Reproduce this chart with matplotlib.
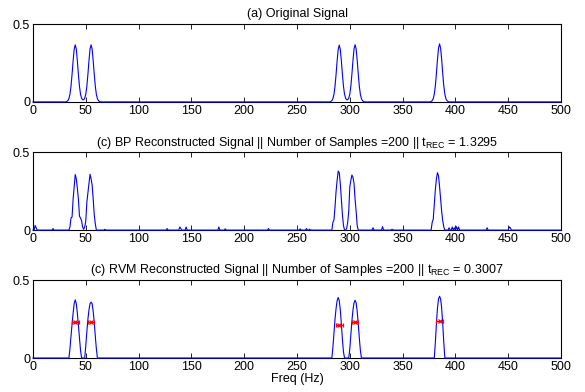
import numpy as np
import matplotlib
matplotlib.use("Agg")
import matplotlib.pyplot as plt

plt.rcParams["font.family"] = ["Liberation Sans", "DejaVu Sans"]
plt.rcParams["mathtext.default"] = "regular"
plt.rcParams["font.size"] = 9

# frequency grid (Hz)
freq = np.arange(0, 501)

# (a) original signal: peak groups, values at 1 Hz steps starting at given freq
orig_start = [32, 282, 377]
orig_vals = [
    [0.003, 0.008, 0.021, 0.049, 0.101, 0.178, 0.265, 0.340, 0.368, 0.340, 0.265, 0.178,
     0.101, 0.050, 0.024, 0.014, 0.014, 0.024, 0.050, 0.101, 0.178, 0.265, 0.340, 0.368,
     0.340, 0.265, 0.178, 0.101, 0.049, 0.021, 0.008, 0.003],
    [0.003, 0.008, 0.021, 0.049, 0.101, 0.178, 0.265, 0.338, 0.366, 0.338, 0.265, 0.178,
     0.101, 0.050, 0.024, 0.014, 0.014, 0.024, 0.050, 0.102, 0.180, 0.268, 0.341, 0.369,
     0.341, 0.268, 0.180, 0.102, 0.049, 0.021, 0.008, 0.003],
    [0.003, 0.008, 0.021, 0.050, 0.103, 0.182, 0.272, 0.346, 0.374, 0.346, 0.272, 0.182,
     0.103, 0.050, 0.021, 0.008, 0.003],
]

# (c) BP reconstruction
bp_start = [34, 283, 377]
bp_vals = [
    [0.0, 0.02, 0.078, 0.085, 0.20, 0.28, 0.358, 0.33, 0.27, 0.20, 0.09, 0.078, 0.06,
     0.02, 0.005, 0.02, 0.06, 0.18, 0.24, 0.30, 0.36, 0.33, 0.29, 0.20, 0.10, 0.04, 0.0],
    [0.0, 0.05, 0.065, 0.15, 0.25, 0.32, 0.38, 0.37, 0.30, 0.20, 0.10, 0.03, 0.0, 0.0,
     0.01, 0.05, 0.12, 0.28, 0.32, 0.355, 0.34, 0.30, 0.20, 0.12, 0.03, 0.0],
    [0.0, 0.05, 0.07, 0.17, 0.26, 0.33, 0.37, 0.35, 0.28, 0.20, 0.12, 0.06, 0.02, 0.0],
]
bp_noise_f = [2, 3, 19, 68, 127, 139, 140, 145, 176, 182, 223, 253, 259, 262, 322,
              331, 340, 394, 397, 399, 401, 403, 430, 451, 452]
bp_noise_v = [0.03, 0.015, 0.01, 0.005, 0.01, 0.02, 0.01, 0.02, 0.02, 0.008, 0.01,
              0.008, 0.01, 0.006, 0.015, 0.022, 0.006, 0.015, 0.02, 0.015, 0.022, 0.02,
              0.015, 0.02, 0.015]

# (c) RVM reconstruction
rvm_start = [34, 49, 283, 299, 380]
rvm_vals = [
    [0.0, 0.06, 0.14, 0.22, 0.29, 0.35, 0.375, 0.35, 0.29, 0.21, 0.13, 0.05, 0.0],
    [0.0, 0.08, 0.17, 0.25, 0.31, 0.35, 0.36, 0.35, 0.30, 0.23, 0.14, 0.06, 0.0],
    [0.0, 0.07, 0.16, 0.25, 0.32, 0.37, 0.39, 0.37, 0.31, 0.22, 0.12, 0.04, 0.0],
    [0.0, 0.06, 0.15, 0.24, 0.31, 0.355, 0.372, 0.355, 0.30, 0.22, 0.13, 0.05, 0.0],
    [0.0, 0.10, 0.22, 0.32, 0.38, 0.398, 0.38, 0.32, 0.22, 0.10, 0.0],
]
rvm_err_f = [40, 55, 290, 305, 385]
rvm_err_v = [0.235, 0.235, 0.213, 0.23, 0.239]
rvm_err_w = [3.2, 3.2, 3.2, 3.2, 3.2]

titles = [
    "(a) Original Signal",
    "(c) BP Reconstructed Signal || Number of Samples =200 || t$_{REC}$ = 1.3295",
    "(c) RVM Reconstructed Signal || Number of Samples =200 || t$_{REC}$ = 0.3007",
]


def build(starts, vals):
    s = np.zeros(len(freq))
    for st, v in zip(starts, vals):
        s[st:st + len(v)] = v
    return s


sig_orig = build(orig_start, orig_vals)
sig_bp = build(bp_start, bp_vals)
sig_bp[bp_noise_f] = bp_noise_v
sig_rvm = build(rvm_start, rvm_vals)

fig = plt.figure(figsize=(5.85, 3.92), dpi=100)
bottoms = [0.740, 0.413, 0.0867]
axes = [fig.add_axes([0.0564, b, 0.9026, 0.198]) for b in bottoms]

for ax, sig, title in zip(axes, [sig_orig, sig_bp, sig_rvm], titles):
    ax.plot(freq, sig, color="#0000ff", lw=0.8, zorder=3, clip_on=False)
    ax.set_xlim(0, 500)
    ax.set_ylim(0, 0.5)
    ax.set_xticks(np.arange(0, 501, 50))
    ax.set_yticks([0, 0.5])
    ax.set_yticklabels(["0", "0.5"])
    ax.tick_params(direction="in", top=True, right=True, length=3.5, width=0.6,
                   labelsize=9, pad=2)
    for sp in ax.spines.values():
        sp.set_linewidth(0.8)
    ax.set_title(title, fontsize=9, pad=5)

axes[2].errorbar(rvm_err_f, rvm_err_v, xerr=rvm_err_w, fmt="x", color="red",
                 ms=3, mew=0.9, elinewidth=1.0, capsize=1.5, zorder=4)
axes[2].set_xlabel("Freq (Hz)", fontsize=9, labelpad=0)

fig.savefig("out.png", dpi=100)
